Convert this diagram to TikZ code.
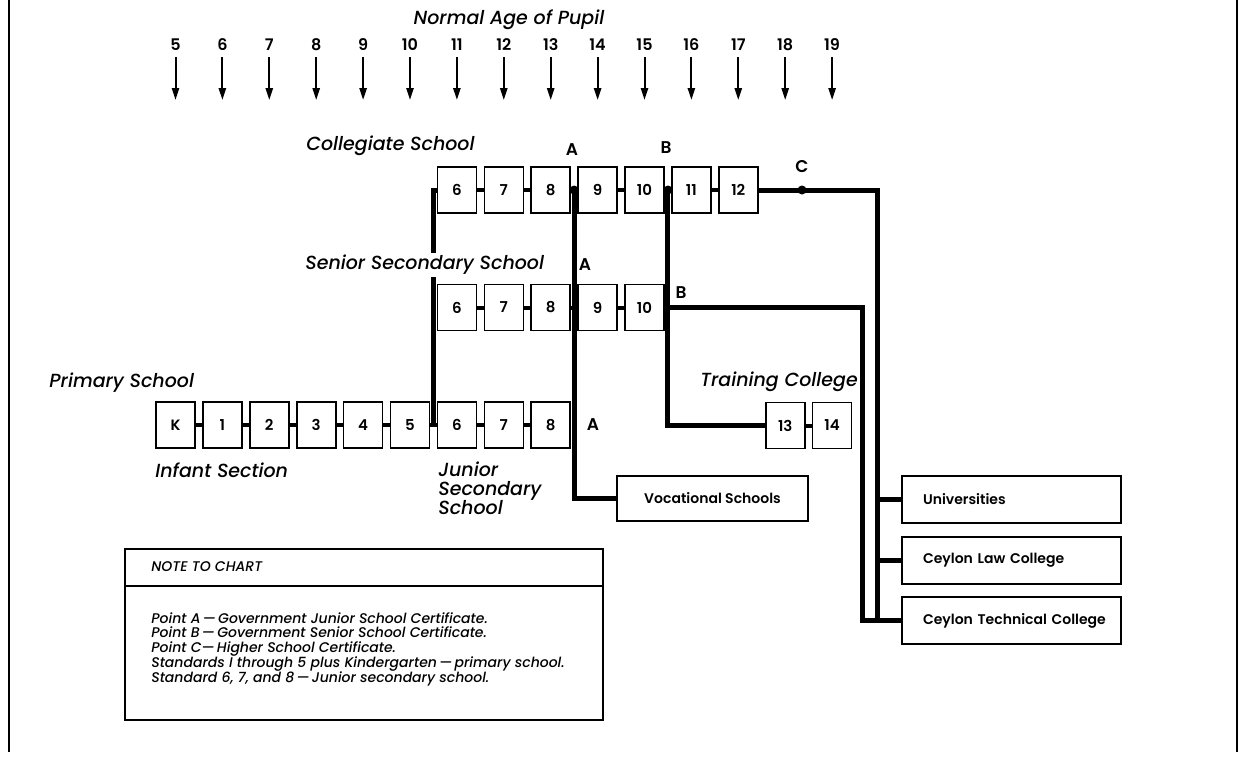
\documentclass[tikz,border=0pt]{standalone}
\usepackage{fontspec}
\setmainfont{Poppins}[BoldFont={Poppins SemiBold}]
\newfontfamily\medfont{Poppins Medium}[Ligatures=TeX]
\usetikzlibrary{arrows.meta,positioning,calc}

\begin{document}
\begin{tikzpicture}[
  x=0.5pt, y=-0.5pt,
  grade/.style={draw, line width=0.8pt, minimum width=19.5pt, minimum height=23pt, inner sep=0pt, font=\fontsize{7.5}{9}\selectfont\bfseries},
  dest/.style={draw, line width=0.8pt, minimum width=109.5pt, minimum height=23.5pt, inner xsep=10.5pt, text width=88.5pt, align=left, font=\fontsize{7}{9}\selectfont\bfseries},
  age/.style={inner sep=0pt, font=\fontsize{8}{9}\selectfont\bfseries},
  agearrow/.style={-{Triangle[length=6pt,width=3.6pt]}, line width=1pt, shorten <=3pt},
  bar/.style={line width=2pt},
  route/.style={line width=2.5pt},
  dot/.style={circle, fill, inner sep=0pt, minimum size=4.5pt},
  certlabel/.style={font=\fontsize{8.5}{9}\selectfont\bfseries, inner sep=0pt},
  lbl/.style={font=\fontsize{9.5}{11}\medfont\itshape, anchor=west, inner sep=1pt},
]
\useasboundingbox (0,0) rectangle (1242,761);
% frame
\draw[line width=1.2pt] (9,0) -- (9,752);
\draw[line width=1.2pt] (1237,0) -- (1237,752);

% ages
\node[lbl, anchor=center] (title) at (509,20) {Normal Age of Pupil};
\foreach \a in {5,...,19} {
  \node[age] (age\a) at ({175.5+46.9*(\a-5)},45) {\a};
  \coordinate (tip\a) at ({175.5+46.9*(\a-5)},100);
  \draw[agearrow] (age\a) -- (tip\a);
}

% grade boxes
\foreach \g [count=\i from 0] in {K,1,2,3,4,5,6,7,8}
  \node[grade] (p\i) at ({175.5+46.9*\i},425) {\g};
\foreach \g in {6,...,10}
  \node[grade] (s\g) at ({175.5+46.9*\g},307.5) {\g};
\foreach \g in {6,...,12}
  \node[grade] (c\g) at ({175.5+46.9*\g},190) {\g};
\foreach \g in {13,14}
  \node[grade] (t\g) at ({175.5+46.9*\g},425.5) {\g};

\foreach \i [evaluate=\i as \j using int(\i+1)] in {0,...,7}
  \draw[bar] (p\i.east) -- (p\j.west);
\foreach \i [evaluate=\i as \j using int(\i+1)] in {6,...,9}
  \draw[bar] (s\i.east) -- (s\j.west);
\foreach \i [evaluate=\i as \j using int(\i+1)] in {6,...,11}
  \draw[bar] (c\i.east) -- (c\j.west);
\draw[bar] (t13.east) -- (t14.west);

% destinations
\node[draw, line width=0.8pt, minimum width=95.5pt, minimum height=22.5pt, font=\fontsize{7}{9}\selectfont\bfseries] (voc) at (712.5,498.5) {Vocational Schools};
\node[dest] (uni) at (1011.5,499.5) {Universities};
\node[dest] (law) at (1011.5,560.5) {Ceylon Law College};
\node[dest] (tech) at (1011.5,620.5) {\mbox{Ceylon Technical College}};

% routes
\coordinate (busB) at (862,307.5);
\coordinate (busC) at (877,190);
\draw[route] ($(p5.east)!.5!(p6.west)$) |- (c6.west);
\draw[route] ($(c8.east)!.5!(c9.west)$) |- (voc.west);
\draw[route] ($(c10.east)!.5!(c11.west)$) |- (t13.west);
\draw[route] (s10.east) -- (busB) |- (tech.west);
\draw[route] (c12.east) -- (busC) |- (tech.west);
\draw[route] (busC |- uni.west) -- (uni.west);
\draw[route] (busC |- law.west) -- (law.west);

\node[dot] (ptA) at ($(c8.east)!.5!(c9.west)$) {};
\node[dot] (ptB) at ($(c10.east)!.5!(c11.west)$) {};
\node[dot] (ptC) at (802,190) {};

\node[certlabel] (cA) at (572,150) {A};
\node[certlabel] (cB) at (666,148) {B};
\node[certlabel] (cC) at (802,167) {C};
\node[certlabel] (sA) at (585,265) {A};
\node[certlabel] (sB) at (681,293) {B};
\node[certlabel] (pA) at (593,425) {A};

% labels
\node[lbl] (collegiate) at (304,146) {Collegiate School};
\node[lbl, fill=white] (senior) at (303,265) {Senior Secondary School};
\node[lbl] (primary) at (47,383) {Primary School};
\node[lbl] (infant) at (153,470) {Infant Section};
\node[lbl, anchor=north west, align=left, font=\fontsize{9.5}{9.5}\medfont\itshape] (junior) at (436,459) {Junior\\Secondary\\School};
\node[lbl] (training) at (698,382) {Training College};

% note
\node[draw, line width=0.8pt, minimum width=239pt, minimum height=85.5pt] (note) at (364,634.5) {};
\draw[line width=0.8pt] ($(note.north west)+(0,38)$) -- ($(note.north east)+(0,38)$);
\node[anchor=west, inner sep=0pt, font=\fontsize{7}{7}\medfont\itshape] (notehead) at (151,567) {NOTE TO CHART};
\node[anchor=north west, inner sep=0pt, align=left, font=\fontsize{7}{7.35}\medfont\itshape] (notetext) at (151,612)
{Point A\,—\,Government Junior School Certificate.\\
 Point B\,—\,Government Senior School Certificate.\\
 Point C—\,Higher School Certificate.\\
 Standards I through 5 plus Kindergarten\,—\,primary school.\\
 Standard 6, 7, and 8\,—\,Junior secondary school.};
\end{tikzpicture}
\end{document}
